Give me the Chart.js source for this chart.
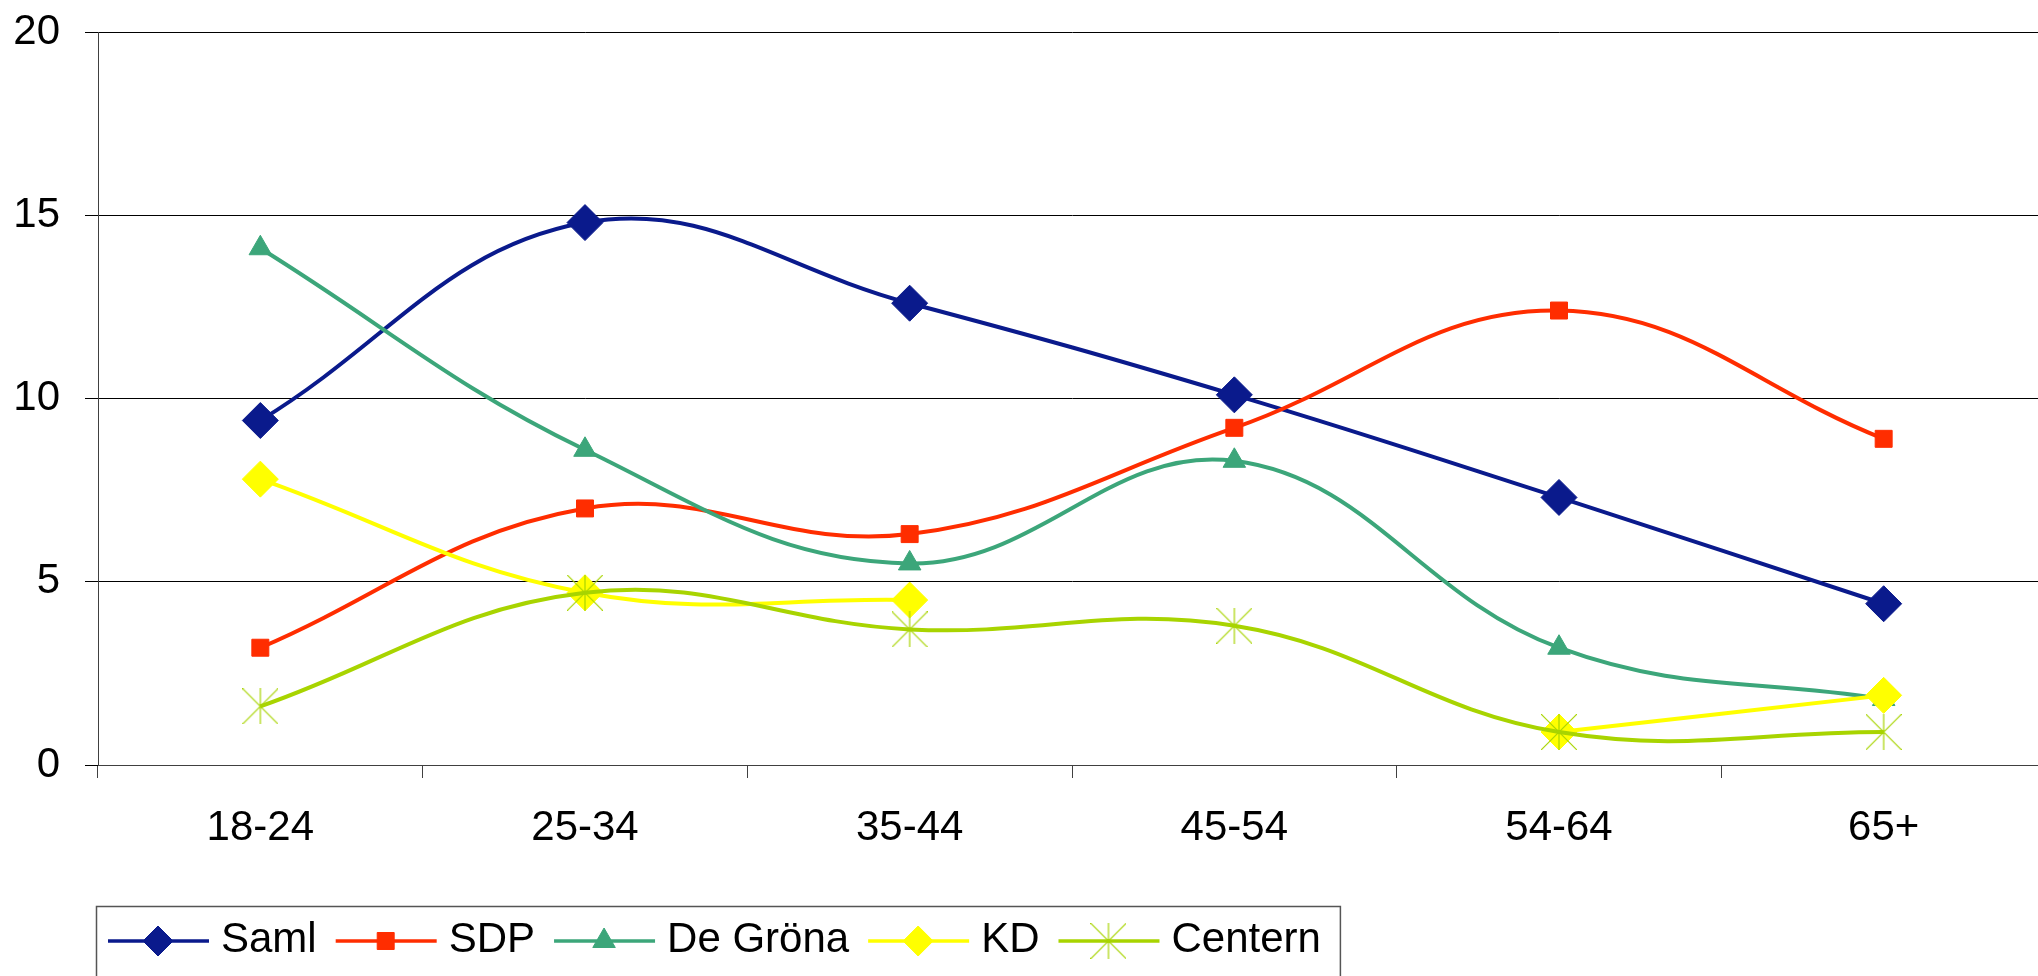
<!DOCTYPE html>
<html>
<head>
<meta charset="utf-8">
<title>Partistöd per åldersgrupp</title>
<script src="https://cdn.jsdelivr.net/npm/chart.js@4.4.1/dist/chart.umd.min.js"></script>
<style>
  html, body { margin: 0; padding: 0; background: #fff; overflow: hidden; }
  #wrap { width: 2046px; height: 976px; }
</style>
</head>
<body>
<div id="wrap"><canvas id="chart" width="2046" height="976"></canvas></div>
<script>
(function () {
  'use strict';

  /* --- Data --- */
  const AGE_GROUPS = ['18-24', '25-34', '35-44', '45-54', '54-64', '65+'];
  const SAML = [9.4, 14.8, 12.6, 10.1, 7.3, 4.4];
  const SDP = [3.2, 7.0, 6.3, 9.2, 12.4, 8.9];
  const DE_GRONA = [14.1, 8.6, 5.5, 8.3, 3.2, 1.8];
  const KD = [7.8, 4.7, 4.5, null, 0.9, 1.9];
  const CENTERN = [1.6, 4.7, 3.7, 3.8, 0.9, 0.9];
  const Y_TICKS = [0, 5, 10, 15, 20];

  /* --- Colours --- */
  const COLORS = {
    saml: '#0a1a8c',
    sdp: '#ff2d00',
    grona: '#3ca67a',
    kd: '#ffff00',
    centern: '#a8d400',
    axis: '#404040',
    grid: '#000000',
    text: '#000000'
  };

  Chart.defaults.font.family = "'Liberation Sans', Arial, sans-serif";
  Chart.defaults.font.size = 42;
  Chart.defaults.color = COLORS.text;

  /* Excel style star: an X with a vertical bar */
  function makeStar(color, size) {
    const c = document.createElement('canvas');
    c.width = size;
    c.height = size;
    const g = c.getContext('2d');
    g.strokeStyle = color;
    g.lineWidth = 1.2;
    g.beginPath();
    g.moveTo(0, 0); g.lineTo(size, size);
    g.moveTo(size, 0); g.lineTo(0, size);
    g.moveTo(size / 2, 0); g.lineTo(size / 2, size);
    g.stroke();
    return c;
  }

  const STAR = makeStar(COLORS.centern, 36);

  function series(label, data, color, style, radius, legendRadius, order) {
    return {
      label,
      data,
      borderColor: color,
      backgroundColor: color,
      borderWidth: 4,
      pointStyle: style,
      pointRadius: radius,
      pointBorderWidth: 1,
      pointBackgroundColor: color,
      pointBorderColor: color,
      legendRadius,
      tension: 0.4,
      spanGaps: false,
      fill: false,
      order
    };
  }

  const datasets = [
    series('Saml', SAML, COLORS.saml, 'rectRot', 18, 15, 5),
    series('SDP', SDP, COLORS.sdp, 'rect', 12, 12, 4),
    series('De Gröna', DE_GRONA, COLORS.grona, 'triangle', 13, 13, 3),
    series('KD', KD, COLORS.kd, 'rectRot', 18, 15, 2),
    series('Centern', CENTERN, COLORS.centern, STAR, 18, 18, 1)
  ];

  /* --- Boxed legend below the plot (Excel look) --- */
  const boxLegend = {
    id: 'boxLegend',
    afterDraw(chart) {
      const ctx = chart.ctx;
      const top = 906;
      const lineY = 941;
      const textY = 952;
      let x = 108;
      ctx.save();
      ctx.font = "42px 'Liberation Sans', Arial, sans-serif";
      ctx.textBaseline = 'alphabetic';
      ctx.textAlign = 'left';
      chart.data.datasets.forEach((ds) => {
        ctx.strokeStyle = ds.borderColor;
        ctx.lineWidth = 3.5;
        ctx.beginPath();
        ctx.moveTo(x, lineY);
        ctx.lineTo(x + 101, lineY);
        ctx.stroke();
        ctx.fillStyle = ds.backgroundColor;
        ctx.lineWidth = 1;
        Chart.helpers.drawPoint(ctx, {
          pointStyle: ds.pointStyle,
          radius: ds.legendRadius,
          rotation: 0,
          borderWidth: 1
        }, x + 50, lineY);
        ctx.fillStyle = COLORS.text;
        ctx.fillText(ds.label, x + 113, textY);
        x += 113 + ctx.measureText(ds.label).width + 19;
      });
      ctx.strokeStyle = '#555555';
      ctx.lineWidth = 1.5;
      ctx.strokeRect(96.5, top + 0.5, x - 96, 120);
      ctx.restore();
    }
  };

  new Chart(document.getElementById('chart'), {
    type: 'line',
    data: { labels: AGE_GROUPS, datasets },
    plugins: [boxLegend],
    options: {
      responsive: false,
      devicePixelRatio: 1,
      animation: false,
      events: [],
      layout: {
        autoPadding: false,
        padding: { top: 32, left: 0, right: 0, bottom: 0 }
      },
      plugins: {
        legend: { display: false },
        tooltip: { enabled: false }
      },
      scales: {
        x: {
          offset: true,
          grid: {
            offset: true,
            drawOnChartArea: false,
            drawTicks: true,
            tickLength: 13,
            color: COLORS.axis,
            lineWidth: 1
          },
          border: { display: true, color: COLORS.axis, width: 1 },
          ticks: { color: COLORS.text, padding: 25, maxRotation: 0, autoSkip: false },
          afterFit: (s) => {
            s.height = 211;
            s.paddingLeft = 0;
            s.paddingRight = 0;
          }
        },
        y: {
          min: Y_TICKS[0],
          max: Y_TICKS[Y_TICKS.length - 1],
          grid: { color: COLORS.grid, tickLength: 13, lineWidth: 1 },
          border: { display: true, color: COLORS.axis, width: 1 },
          ticks: { stepSize: Y_TICKS[1] - Y_TICKS[0], color: COLORS.text, padding: 25 },
          afterFit: (s) => {
            s.width = 98;
            s.paddingTop = 0;
            s.paddingBottom = 0;
          }
        }
      }
    }
  });
})();
</script>
</body>
</html>
